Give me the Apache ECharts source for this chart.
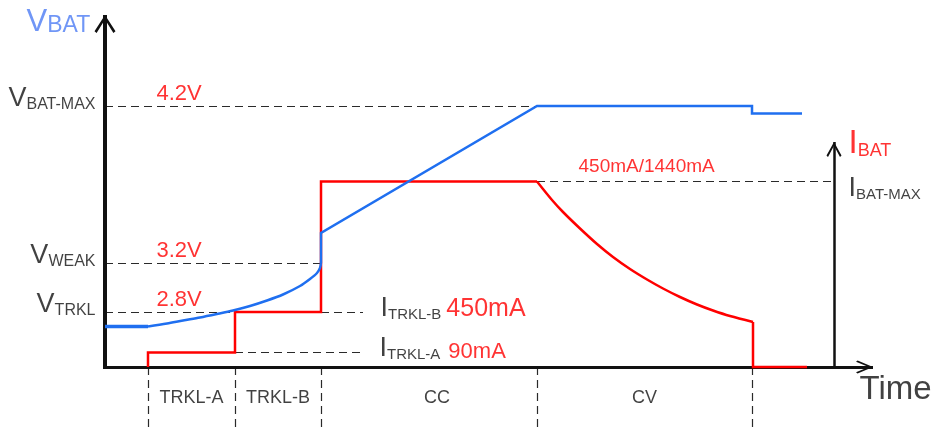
<!DOCTYPE html>
<html>
<head>
<meta charset="utf-8">
<title>charge profile</title>
<script src="https://cdn.jsdelivr.net/npm/echarts@6.0.0/dist/echarts.min.js"></script>
<style>
html,body{margin:0;padding:0;background:#fff;}
#chart{width:932px;height:427px;}
</style>
</head>
<body>
<div id="chart"></div>
<script>
// schematic: time = distance from the VBAT axis, level = height above the time axis
var phaseEdges = [43, 130, 216, 432, 647];
var phaseNames = ['TRKL-A', 'TRKL-B', 'CC', 'CV'];

var vbatTime  = [0, 43, 62, 78, 95, 112, 128, 145, 162, 178, 195, 205, 212, 215, 216, 216, 432, 647, 647, 697];
var vbatLevel = [40.5, 40.5, 43.5, 46.5, 49.5, 53, 56.5, 61, 66.5, 72.5, 81, 88, 94, 99, 104, 134, 261, 261, 253.5, 253.5];

var ibatTime  = [43, 43, 130, 130, 216, 216, 432, 447, 458, 475, 492, 508, 525, 542, 558, 575, 592, 608, 625, 648, 648, 702];
var ibatLevel = [0, 14.5, 14.5, 55, 55, 185.5, 185.5, 167, 155, 138.5, 123, 110, 98, 87.5, 78.5, 70, 62.5, 56.5, 51, 45, 0, 0];

var vLevels     = [261, 104, 55];
var vLevelNames = ['BAT-MAX', 'WEAK', 'TRKL'];
var vLevelText  = ['4.2V', '3.2V', '2.8V'];

var iLevels     = [185.5, 55, 14.5];
var iLevelNames = ['BAT-MAX', 'TRKL-B', 'TRKL-A'];
var iLevelText  = ['450mA/1440mA', '450mA', '90mA'];

initChart('chart');

function initChart(domId) {
    var myChart = echarts.init(document.getElementById(domId));
    var BLUE = '#1f6ff0', RED = '#ff0000', INK = '#111';
    var iAxisX = 729, vAxisTop = 352, tAxisEnd = 768, iAxisTop = 225;
    var phaseNudge = [0, 0, 8, 0];
    // open chevron, tip sits in the middle of the box
    var chevron = 'path://M0,14.5 L10,0 L20,14.5 L18,16 L10,4 L2,16 Z M9.9,-16 L10.1,-16 L10,-16 Z';

    function pairs(xs, ys, from, to) {
        var out = [];
        for (var k = from; k <= to; k++) out.push([xs[k], ys[k]]);
        return out;
    }
    function seg(x1, y1, x2, y2) {
        return [{coord: [x1, y1]}, {coord: [x2, y2]}];
    }
    function arrowLine(x1, y1, x2, y2, width, size) {
        return {
            type: 'line', data: [], silent: true,
            markLine: {
                silent: true, animation: false,
                symbol: ['none', chevron], symbolSize: size,
                label: {show: false},
                lineStyle: {color: INK, type: 'solid', width: width},
                emphasis: {disabled: true},
                data: [seg(x1, y1, x2, y2)]
            }
        };
    }
    function trace(data, color, width, smooth) {
        return {
            type: 'line', data: data, z: 6, symbol: 'none', silent: true,
            smooth: smooth, lineStyle: {color: color, width: width, join: 'miter'}
        };
    }

    // dashed guides
    var guides = [
        seg(0, vLevels[0], phaseEdges[3], vLevels[0]),
        seg(0, vLevels[1], phaseEdges[2], vLevels[1]),
        seg(0, vLevels[2], phaseEdges[1], vLevels[2]),
        seg(phaseEdges[3], iLevels[0], iAxisX, iLevels[0]),
        seg(phaseEdges[2], iLevels[1], 258, iLevels[1]),
        seg(phaseEdges[1], iLevels[2], 258, iLevels[2])
    ];
    phaseEdges.forEach(function (t) { guides.push(seg(t, 0, t, -60)); });

    // text
    var notes = [];
    function note(x, y, text, pos) {
        notes.push({value: [x, y], label: {position: pos, formatter: text}});
    }
    note(-79, 345, '{vt|V}{vts|BAT}', 'right');
    note(743, 223, '{it|I}{its|BAT}', 'right');
    for (var k = 0; k < vLevels.length; k++) {
        note(-9, vLevels[k] + 7, '{big|V}{sub|' + vLevelNames[k] + '}', 'left');
        note(51, vLevels[k] + 12.5, '{val|' + vLevelText[k] + '}', 'right');
    }
    note(743, iLevels[0] - 7, '{big|I}{sub2|' + iLevelNames[0] + '}', 'right');
    note(473, iLevels[0] + 14.5, '{top|' + iLevelText[0] + '}', 'right');
    note(275, iLevels[1] + 3.5, '{big|I}{sub2|' + iLevelNames[1] + '}{ma|' + iLevelText[1] + '}', 'right');
    note(274, iLevels[2] + 3.5, '{big|I}{sub2|' + iLevelNames[2] + '}{ma2|' + iLevelText[2] + '}', 'right');
    note(754, -22.5, '{time|Time}', 'right');
    for (var p = 0; p < phaseNames.length; p++) {
        note((phaseEdges[p] + phaseEdges[p + 1]) / 2 + phaseNudge[p], -31.5, '{ph|' + phaseNames[p] + '}', 'inside');
    }

    var last = vbatTime.length - 1, lastI = ibatTime.length - 1;
    var option = {
        backgroundColor: '#fff',
        animation: false,
        textStyle: {fontFamily: '"Liberation Sans", Arial, sans-serif'},
        grid: {left: 0, right: 0, top: 0, bottom: 0},
        xAxis: {type: 'value', min: -105, max: 827, show: false},
        yAxis: {type: 'value', min: -60, max: 367, show: false},
        series: [
            {
                name: 'guides', type: 'line', data: [], silent: true,
                markLine: {
                    silent: true, animation: false, symbol: 'none',
                    label: {show: false},
                    lineStyle: {color: '#2a2a2a', type: [8, 5], width: 1.2},
                    emphasis: {disabled: true},
                    data: guides
                }
            },
            arrowLine(0, -1.5, 0, vAxisTop, 4, [21, 36]),
            arrowLine(-2, 0, tAxisEnd, 0, 3, [13, 34]),
            arrowLine(iAxisX, 0, iAxisX, iAxisTop, 2.5, [15, 30]),
            // IBAT: steps, CV decay, cut-off
            trace(pairs(ibatTime, ibatLevel, 0, 6), RED, 2.5, false),
            trace(pairs(ibatTime, ibatLevel, 6, 19), RED, 2.5, 0.3),
            trace(pairs(ibatTime, ibatLevel, 19, lastI), RED, 2.5, false),
            // VBAT: pre-charge, trickle curve, CC ramp and CV
            trace(pairs(vbatTime, vbatLevel, 0, 1), BLUE, 3.6, false),
            trace(pairs(vbatTime, vbatLevel, 1, 14), BLUE, 2.5, 0.3),
            trace(pairs(vbatTime, vbatLevel, 14, last), BLUE, 2.5, false),
            {
                name: 'notes', type: 'scatter', data: notes, silent: true, z: 8,
                symbolSize: 1, itemStyle: {color: 'rgba(0,0,0,0)'},
                label: {
                    show: true, distance: 0, fontSize: 16, color: INK,
                    rich: {
                        vt:   {fontSize: 31, color: '#4c7cf4', lineHeight: 31},
                        vts:  {fontSize: 23, color: '#4c7cf4', lineHeight: 25, verticalAlign: 'bottom'},
                        it:   {fontSize: 33, color: RED, lineHeight: 33},
                        its:  {fontSize: 18, color: RED, lineHeight: 20, verticalAlign: 'bottom'},
                        big:  {fontSize: 27, color: INK, lineHeight: 27},
                        sub:  {fontSize: 16, color: INK, lineHeight: 18, verticalAlign: 'bottom'},
                        sub2: {fontSize: 15, color: INK, lineHeight: 17, verticalAlign: 'bottom'},
                        val:  {fontSize: 22, color: RED},
                        top:  {fontSize: 19, color: RED},
                        ma:   {fontSize: 25, color: RED, lineHeight: 26, verticalAlign: 'bottom', padding: [0, 0, 0, 5]},
                        ma2:  {fontSize: 22, color: RED, lineHeight: 23, verticalAlign: 'bottom', padding: [0, 0, 0, 8]},
                        time: {fontSize: 33, color: INK},
                        ph:   {fontSize: 18, color: INK}
                    }
                }
            }
        ]
    };
    myChart.setOption(option);
}
</script>
</body>
</html>
